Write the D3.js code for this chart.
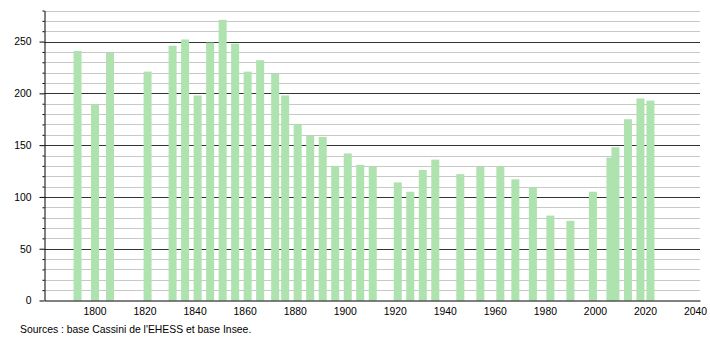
<!DOCTYPE html>
<html>
<head>
<meta charset="utf-8">
<script src="https://cdn.jsdelivr.net/npm/d3@7"></script>
<style>
  body { margin: 0; background: #fff; }
  svg { display: block; font-family: "Liberation Sans", Arial, sans-serif; }
</style>
</head>
<body>
<div id="chart"></div>
<script>
// recensements
const years = [1793, 1800, 1806, 1821, 1831, 1836, 1841, 1846, 1851, 1856, 1861, 1866, 1872, 1876,
  1881, 1886, 1891, 1896, 1901, 1906, 1911, 1921, 1926, 1931, 1936, 1946, 1954, 1962, 1968,
  1975, 1982, 1990, 1999, 2006, 2008, 2013, 2018, 2022]
const population = [241, 189, 239, 221, 246, 252, 198, 249, 271, 248, 221, 232, 219, 198,
  170, 159, 158, 130, 142, 131, 129, 114, 105, 126, 136, 122, 129, 129, 117,
  109, 82, 77, 105, 138, 148, 175, 195, 193]
const xTicks = [1800, 1820, 1840, 1860, 1880, 1900, 1920, 1940, 1960, 1980, 2000, 2020, 2040]
const yTicks = [0, 50, 100, 150, 200, 250]
const source = 'Sources : base Cassini de l\'EHESS et base Insee.'

const chartWidth = 710
const chartHeight = 340
const plotLeft = 44.5
const plotRight = 700
const plotTop = 10.5
const plotBottom = 300.5
const barWidth = 8
const fontSize = 10.4

const data = years.map((y, i) => ({ year: y, value: population[i] }))

const svg = d3.select('#chart')
  .append('svg')
  .attr('width', chartWidth)
  .attr('height', chartHeight)

const x = d3.scaleLinear().domain([1780, 2042]).range([plotLeft, plotRight])
const y = d3.scaleLinear().domain([0, 280]).range([plotBottom, plotTop])

// grille secondaire (tous les 10)
const minor = d3.range(10, 281, 10).filter(v => v % 50 !== 0)
svg.append('g')
  .selectAll('line')
  .data(minor)
  .enter()
  .append('line')
  .attr('x1', plotLeft)
  .attr('x2', plotRight)
  .attr('y1', d => Math.round(y(d)) + 0.5)
  .attr('y2', d => Math.round(y(d)) + 0.5)
  .attr('stroke', '#c8c8c8')

// grille principale
svg.append('g')
  .selectAll('line')
  .data(yTicks.filter(v => v > 0))
  .enter()
  .append('line')
  .attr('x1', plotLeft)
  .attr('x2', plotRight)
  .attr('y1', d => Math.round(y(d)) + 0.5)
  .attr('y2', d => Math.round(y(d)) + 0.5)
  .attr('stroke', '#333')

// barres
svg.append('g')
  .selectAll('rect')
  .data(data)
  .enter()
  .append('rect')
  .attr('x', d => x(d.year) - barWidth / 2 + 0.5)
  .attr('y', d => y(d.value))
  .attr('width', barWidth)
  .attr('height', d => y(0) - y(d.value))
  .attr('fill', '#aee2ae')

// axe y
const yAxis = d3.axisLeft(y)
  .tickValues(d3.range(0, 281, 10))
  .tickSize(0)
  .tickFormat(d => d % 50 === 0 ? d : '')
const yAxisG = svg.append('g')
  .attr('transform', `translate(${plotLeft},0)`)
  .call(yAxis)
yAxisG.select('.domain').attr('stroke', '#000')
yAxisG.selectAll('.tick line')
  .attr('x2', d => d % 50 === 0 ? -5 : -2)
  .attr('stroke', '#000')
yAxisG.selectAll('.tick text')
  .attr('x', -13)
  .attr('font-size', fontSize)
  .attr('font-family', '"Liberation Sans", Arial, sans-serif')
  .attr('fill', '#000')

// axe x
const xAxis = d3.axisBottom(x)
  .tickValues(xTicks)
  .tickSize(0)
  .tickFormat(d3.format('d'))
const xAxisG = svg.append('g')
  .attr('transform', `translate(0,${plotBottom})`)
  .call(xAxis)
xAxisG.select('.domain').attr('stroke', '#000')
xAxisG.selectAll('.tick text')
  .attr('y', 7)
  .attr('font-size', fontSize)
  .attr('font-family', '"Liberation Sans", Arial, sans-serif')
  .attr('fill', '#000')

svg.append('text')
  .text(source)
  .attr('x', 20)
  .attr('y', 333)
  .attr('font-size', fontSize)
  .attr('fill', '#000')
</script>
</body>
</html>
